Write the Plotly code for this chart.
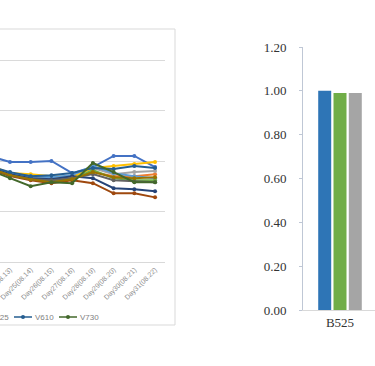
import plotly.graph_objects as go

W, H = 375, 366

# ---------------- left line chart data ----------------
days = ["Day23(08.12)", "Day24(08.13)", "Day25(08.14)", "Day26(08.15)", "Day27(08.16)",
        "Day28(08.19)", "Day29(08.20)", "Day30(08.21)", "Day31(08.22)"]

s1 = [1.05, 0.99, 0.99, 1.00, 0.88, 0.94, 1.05, 1.05, 0.94]
s2 = [0.93, 0.87, 0.83, 0.81, 0.83, 0.89, 0.85, 0.85, 0.87]
s3 = [0.95, 0.88, 0.84, 0.83, 0.85, 0.93, 0.87, 0.89, 0.90]
s4 = [0.96, 0.88, 0.87, 0.85, 0.84, 0.93, 0.95, 0.97, 0.99]
s5 = [0.94, 0.88, 0.85, 0.84, 0.86, 0.95, 0.88, 0.85, 0.83]
s6 = [0.93, 0.86, 0.82, 0.80, 0.82, 0.91, 0.83, 0.81, 0.81]
s7 = [0.94, 0.87, 0.83, 0.82, 0.85, 0.83, 0.73, 0.72, 0.70]
s8 = [0.92, 0.85, 0.81, 0.78, 0.81, 0.78, 0.68, 0.68, 0.64]
s9 = [0.93, 0.86, 0.82, 0.81, 0.83, 0.87, 0.81, 0.80, 0.79]
v525 = [0.93, 0.86, 0.82, 0.79, 0.82, 0.89, 0.84, 0.83, 0.84]
v610 = [0.95, 0.89, 0.85, 0.86, 0.88, 0.93, 0.92, 0.95, 0.93]
v730 = [0.91, 0.83, 0.75, 0.79, 0.78, 0.98, 0.89, 0.79, 0.79]

line_series = [
    ("S1", s1, "#4472C4", False),
    ("S2", s2, "#ED7D31", False),
    ("S3", s3, "#A5A5A5", False),
    ("S4", s4, "#FFC000", False),
    ("S5", s5, "#5B9BD5", False),
    ("S6", s6, "#70AD47", False),
    ("S7", s7, "#264478", False),
    ("S8", s8, "#9E480E", False),
    ("S9", s9, "#636363", False),
    ("V525", v525, "#997300", True),
    ("V610", v610, "#255E91", True),
    ("V730", v730, "#43682B", True),
]

# ---------------- right bar chart data ----------------
bar_categories = ["B525"]
bar_series = [
    ("A", [1.00], "#2E75B6"),
    ("B", [0.99], "#70AD47"),
    ("C", [0.99], "#A5A5A5"),
]
bar_ticks = [0.0, 0.2, 0.4, 0.6, 0.8, 1.0, 1.2]

fig = go.Figure()

for name, vals, color, show in line_series:
    fig.add_trace(go.Scatter(
        x=days, y=vals, name=name, mode="lines+markers",
        line=dict(color=color, width=2),
        marker=dict(color=color, size=4),
        showlegend=False, xaxis="x", yaxis="y",
    ))

for name, vals, color in bar_series:
    fig.add_trace(go.Bar(
        x=bar_categories, y=vals, name=name, marker=dict(color=color, line=dict(width=0)),
        showlegend=False, xaxis="x2", yaxis="y2",
    ))


def py(p):
    return 1 - p / H


# custom Excel-like legend row (short symbols), partially cut by the page edge
shapes = [dict(type="rect", xref="paper", yref="paper",
               x0=-0.5, x1=175 / W, y0=py(325), y1=py(29),
               line=dict(color="#D9D9D9", width=1), fillcolor="rgba(0,0,0,0)", layer="below")]
annotations = []
leg_start, leg_step, sym_len, leg_y = -31, 45, 18, 317
shown = [(n, c) for n, _, c, s in line_series if s]
for i, (n, c) in enumerate(shown):
    s = leg_start + leg_step * i
    shapes.append(dict(type="line", xref="paper", yref="paper",
                       x0=s / W, x1=(s + sym_len) / W, y0=py(leg_y), y1=py(leg_y),
                       line=dict(color=c, width=1.5)))
    shapes.append(dict(type="circle", xref="paper", yref="paper",
                       x0=(s + sym_len / 2 - 2) / W, x1=(s + sym_len / 2 + 2) / W,
                       y0=py(leg_y + 2), y1=py(leg_y - 2),
                       line=dict(color=c, width=0), fillcolor=c))
    annotations.append(dict(text=n, xref="paper", yref="paper", showarrow=False,
                            x=(s + sym_len + 1) / W, y=py(leg_y), xanchor="left", yanchor="middle",
                            font=dict(family="Liberation Sans", size=8, color="#7F7F7F")))

y_top = 2.05  # axis max slightly above the top gridline so it is drawn
fig.update_layout(
    width=W, height=H,
    margin=dict(l=0, r=0, t=0, b=0, autoexpand=False),
    paper_bgcolor="white", plot_bgcolor="white",
    showlegend=False,
    barmode="group", bargap=0.38, bargroupgap=0.15,
    xaxis=dict(domain=[0, 165.4 / W], type="category", range=[0.518, 8.5], anchor="y",
               tickangle=-45, tickfont=dict(family="Liberation Sans", size=7, color="#8C8C8C"),
               showgrid=False, showline=True, linecolor="#D9D9D9", linewidth=1,
               ticks="", zeroline=False),
    yaxis=dict(domain=[py(262), py(262 - 101 * y_top)], range=[0, y_top], dtick=0.5, anchor="x",
               showgrid=True, gridcolor="#DADADA", gridwidth=1,
               showticklabels=False, zeroline=False, showline=False),
    xaxis2=dict(domain=[303 / W, 1], type="category", range=[-0.5, 0.473], anchor="y2",
                tickfont=dict(family="Liberation Serif", size=13, color="#333333"),
                showline=True, linecolor="#D9D9D9", linewidth=1, ticks="",
                showgrid=False, zeroline=False),
    yaxis2=dict(domain=[py(310), py(47)], range=[0, 1.2], tickvals=bar_ticks,
                tickformat=".2f", anchor="x2",
                tickfont=dict(family="Liberation Serif", size=13, color="#333333"),
                showline=True, linecolor="#BFC7D5", linewidth=1,
                ticks="outside", ticklen=3, tickcolor="#BFC7D5",
                ticklabelstandoff=10,
                showgrid=False, zeroline=False),
    shapes=shapes,
    annotations=annotations,
)

fig.write_html("out.html", config={"displayModeBar": False},
               post_script="document.body.style.margin='0';document.body.style.padding='0';")
